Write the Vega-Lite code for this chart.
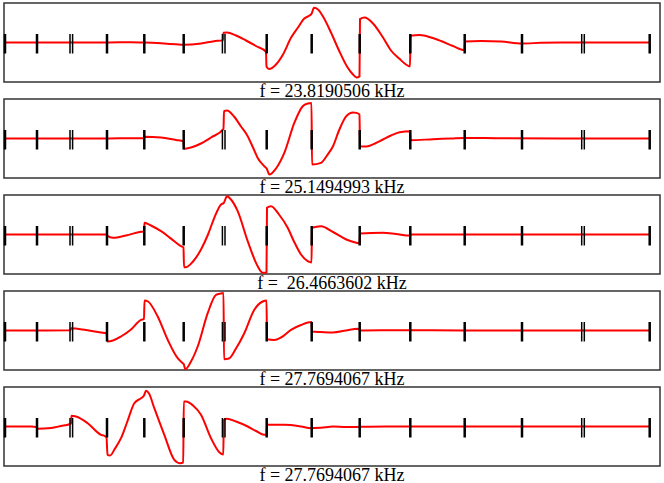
{
  "$schema": "https://vega.github.io/schema/vega-lite/v6.json",
  "padding": {"left": 3, "top": 2, "right": 0, "bottom": 20},
  "background": "white",
  "bounds": "flush",
  "spacing": 17,
  "config": {
    "view": {"stroke": "#333", "strokeWidth": 1.5},
    "title": {"font": "Liberation Serif", "fontSize": 18, "fontWeight": "normal", "orient": "bottom", "anchor": "middle", "offset": 1, "color": "black"}
  },
  "datasets": {
    "ticks": [
      {"x": 4, "kind": "single"}, {"x": 36, "kind": "single"}, {"x": 69.0, "kind": "double"}, {"x": 71.6, "kind": "double"}, {"x": 106, "kind": "single"}, {"x": 143.3, "kind": "single"}, {"x": 182.7, "kind": "single"}, {"x": 221.4, "kind": "double"}, {"x": 224.0, "kind": "double"},
      {"x": 265.7, "kind": "single"}, {"x": 310.7, "kind": "single"}, {"x": 358.7, "kind": "single"}, {"x": 409.3, "kind": "single"}, {"x": 463.7, "kind": "single"}, {"x": 521, "kind": "single"}, {"x": 580.7, "kind": "double"}, {"x": 583.3, "kind": "double"}, {"x": 648.7, "kind": "single"}
    ],
    "wave": [
      {"panel":1,"x":4,"y":0},{"panel":1,"x":36,"y":0},{"panel":1,"x":70,"y":0},{"panel":1,"x":106,"y":0},{"panel":1,"x":130,"y":0.3},{"panel":1,"x":143,"y":0},{"panel":1,"x":160,"y":-0.8},{"panel":1,"x":175,"y":-1.8},{"panel":1,"x":183,"y":-2.3},{"panel":1,"x":200,"y":-1},{"panel":1,"x":213,"y":1.3},{"panel":1,"x":222,"y":2.4},{"panel":1,"x":222.5,"y":9.7},{"panel":1,"x":226,"y":10},{"panel":1,"x":235,"y":7},{"panel":1,"x":245,"y":2},{"panel":1,"x":255,"y":-3.5},{"panel":1,"x":265,"y":-9.3},{"panel":1,"x":265.5,"y":-24},{"panel":1,"x":268,"y":-26.6},{"panel":1,"x":275,"y":-22},{"panel":1,"x":282,"y":-12},{"panel":1,"x":290,"y":4.7},{"panel":1,"x":297,"y":15},{"panel":1,"x":303,"y":23.7},{"panel":1,"x":308,"y":26.7},{"panel":1,"x":310.7,"y":29},{"panel":1,"x":313,"y":34.7},{"panel":1,"x":317,"y":33},{"panel":1,"x":322,"y":26},{"panel":1,"x":330,"y":10},{"panel":1,"x":338,"y":-8},{"panel":1,"x":346,"y":-24},{"panel":1,"x":352,"y":-32},{"panel":1,"x":355.5,"y":-35},{"panel":1,"x":358.5,"y":-34},{"panel":1,"x":359,"y":23.4},{"panel":1,"x":363.7,"y":25},{"panel":1,"x":372,"y":19},{"panel":1,"x":382,"y":5},{"panel":1,"x":390,"y":-8},{"panel":1,"x":398.7,"y":-16.6},{"panel":1,"x":405,"y":-22},{"panel":1,"x":409,"y":-24},{"panel":1,"x":409.5,"y":6.7},{"panel":1,"x":418.7,"y":7.4},{"panel":1,"x":430,"y":5},{"panel":1,"x":440,"y":1.5},{"panel":1,"x":452,"y":-3.5},{"panel":1,"x":463.5,"y":-7.6},{"panel":1,"x":464,"y":1},{"panel":1,"x":480,"y":1.6},{"panel":1,"x":500,"y":1},{"panel":1,"x":521,"y":-1},{"panel":1,"x":540,"y":-0.3},{"panel":1,"x":560,"y":0},{"panel":1,"x":600,"y":0},{"panel":1,"x":648.7,"y":0},

      {"panel":2,"x":4,"y":0},{"panel":2,"x":36,"y":0},{"panel":2,"x":70,"y":0},{"panel":2,"x":106,"y":0},{"panel":2,"x":130,"y":0.3},{"panel":2,"x":143,"y":0.2},{"panel":2,"x":143.5,"y":1.7},{"panel":2,"x":160,"y":1},{"panel":2,"x":175,"y":-1.5},{"panel":2,"x":182.5,"y":-2.7},{"panel":2,"x":183,"y":-10.3},{"panel":2,"x":190,"y":-9},{"panel":2,"x":200,"y":-5},{"panel":2,"x":210,"y":1},{"panel":2,"x":222.5,"y":9.7},{"panel":2,"x":223,"y":27.3},{"panel":2,"x":226,"y":28},{"panel":2,"x":233,"y":22},{"panel":2,"x":240,"y":12},{"panel":2,"x":246.7,"y":2.3},{"panel":2,"x":252,"y":-9},{"panel":2,"x":256.7,"y":-19.4},{"panel":2,"x":263.3,"y":-27.7},{"panel":2,"x":265.7,"y":-30},{"panel":2,"x":268.3,"y":-36},{"panel":2,"x":275,"y":-30},{"panel":2,"x":283.3,"y":-14.4},{"panel":2,"x":293.3,"y":15.6},{"panel":2,"x":301.7,"y":32.3},{"panel":2,"x":306.7,"y":35},{"panel":2,"x":310.5,"y":35.5},{"panel":2,"x":311,"y":-26},{"panel":2,"x":320,"y":-24.4},{"panel":2,"x":326,"y":-17},{"panel":2,"x":332,"y":-7.7},{"panel":2,"x":338,"y":8},{"panel":2,"x":345.3,"y":22.3},{"panel":2,"x":352,"y":26},{"panel":2,"x":355.3,"y":25.6},{"panel":2,"x":358.5,"y":24},{"panel":2,"x":359,"y":-7.7},{"panel":2,"x":365.3,"y":-8},{"panel":2,"x":374,"y":-5},{"panel":2,"x":382,"y":-1},{"panel":2,"x":390,"y":3},{"panel":2,"x":398.7,"y":6.3},{"panel":2,"x":409,"y":7.3},{"panel":2,"x":409.5,"y":-1.7},{"panel":2,"x":432,"y":-0.7},{"panel":2,"x":450,"y":0},{"panel":2,"x":463.7,"y":0.6},{"panel":2,"x":500,"y":0.2},{"panel":2,"x":560,"y":0},{"panel":2,"x":648.7,"y":0},

      {"panel":3,"x":4,"y":0},{"panel":3,"x":36,"y":0},{"panel":3,"x":70,"y":0},{"panel":3,"x":105.5,"y":0},{"panel":3,"x":106,"y":-1},{"panel":3,"x":112,"y":-3.3},{"panel":3,"x":125,"y":-1},{"panel":3,"x":140,"y":2.7},{"panel":3,"x":143,"y":3},{"panel":3,"x":143.5,"y":11.7},{"panel":3,"x":150,"y":9},{"panel":3,"x":160,"y":3.3},{"panel":3,"x":173.3,"y":-6.7},{"panel":3,"x":180,"y":-11.7},{"panel":3,"x":182.5,"y":-13},{"panel":3,"x":183,"y":-32.7},{"panel":3,"x":185,"y":-32.7},{"panel":3,"x":192,"y":-27},{"panel":3,"x":200,"y":-15},{"panel":3,"x":207,"y":0},{"panel":3,"x":213.3,"y":16.7},{"panel":3,"x":220,"y":30},{"panel":3,"x":222.7,"y":31.5},{"panel":3,"x":226,"y":38.3},{"panel":3,"x":230,"y":35},{"panel":3,"x":236.7,"y":23.3},{"panel":3,"x":246.7,"y":-6.7},{"panel":3,"x":256.7,"y":-31.7},{"panel":3,"x":261.7,"y":-38.3},{"panel":3,"x":265.5,"y":-38},{"panel":3,"x":266,"y":26.7},{"panel":3,"x":270,"y":28.3},{"panel":3,"x":278,"y":20},{"panel":3,"x":286.7,"y":6.7},{"panel":3,"x":293,"y":-7},{"panel":3,"x":300,"y":-20},{"panel":3,"x":306.7,"y":-26.7},{"panel":3,"x":310.5,"y":-28},{"panel":3,"x":311,"y":6.7},{"panel":3,"x":320,"y":8.3},{"panel":3,"x":332,"y":2.5},{"panel":3,"x":345.3,"y":-5},{"panel":3,"x":355.3,"y":-8.3},{"panel":3,"x":358.5,"y":-9},{"panel":3,"x":359,"y":1},{"panel":3,"x":382,"y":1.7},{"panel":3,"x":395,"y":0.5},{"panel":3,"x":409,"y":-1},{"panel":3,"x":409.5,"y":0},{"panel":3,"x":430,"y":0},{"panel":3,"x":463,"y":0},{"panel":3,"x":521,"y":0},{"panel":3,"x":648.7,"y":0},

      {"panel":4,"x":4,"y":0},{"panel":4,"x":36,"y":0},{"panel":4,"x":69.5,"y":0.3},{"panel":4,"x":70,"y":2.3},{"panel":4,"x":85,"y":0.5},{"panel":4,"x":100,"y":-2},{"panel":4,"x":105.5,"y":-2.7},{"panel":4,"x":106.5,"y":-11},{"panel":4,"x":112,"y":-10},{"panel":4,"x":120,"y":-6},{"panel":4,"x":130,"y":1},{"panel":4,"x":140,"y":10.7},{"panel":4,"x":143,"y":11.5},{"panel":4,"x":143.5,"y":30},{"panel":4,"x":147,"y":29},{"panel":4,"x":156.7,"y":14},{"panel":4,"x":166.7,"y":-9.3},{"panel":4,"x":176.7,"y":-27.7},{"panel":4,"x":181.7,"y":-32.7},{"panel":4,"x":182.7,"y":-33.5},{"panel":4,"x":184.3,"y":-38.7},{"panel":4,"x":190,"y":-31},{"panel":4,"x":196.7,"y":-16},{"panel":4,"x":206.7,"y":17.3},{"panel":4,"x":215,"y":35.7},{"panel":4,"x":220,"y":37},{"panel":4,"x":222.5,"y":37.5},{"panel":4,"x":223,"y":-28.7},{"panel":4,"x":228,"y":-28},{"panel":4,"x":235,"y":-18},{"panel":4,"x":243.3,"y":-2.7},{"panel":4,"x":253.3,"y":20.7},{"panel":4,"x":261.7,"y":29},{"panel":4,"x":265.5,"y":30},{"panel":4,"x":266,"y":-8.7},{"panel":4,"x":273,"y":-9.5},{"panel":4,"x":280,"y":-7},{"panel":4,"x":290,"y":0.7},{"panel":4,"x":300,"y":5.5},{"panel":4,"x":310.5,"y":8.5},{"panel":4,"x":311,"y":-1},{"panel":4,"x":320,"y":-1.5},{"panel":4,"x":332,"y":-2},{"panel":4,"x":345,"y":0},{"panel":4,"x":357,"y":1.7},{"panel":4,"x":359,"y":0},{"panel":4,"x":400,"y":0.3},{"panel":4,"x":463,"y":0},{"panel":4,"x":521,"y":0},{"panel":4,"x":648.7,"y":0},

      {"panel":5,"x":4,"y":0},{"panel":5,"x":30,"y":0},{"panel":5,"x":35.5,"y":-0.5},{"panel":5,"x":36.5,"y":-2.3},{"panel":5,"x":50,"y":-1.5},{"panel":5,"x":60,"y":0.5},{"panel":5,"x":68.3,"y":2.3},{"panel":5,"x":70,"y":3},{"panel":5,"x":70.5,"y":10.7},{"panel":5,"x":75,"y":10},{"panel":5,"x":86.7,"y":3.3},{"panel":5,"x":100,"y":-8.3},{"panel":5,"x":104,"y":-9.7},{"panel":5,"x":105.5,"y":-11},{"panel":5,"x":106.5,"y":-28.3},{"panel":5,"x":109,"y":-29},{"panel":5,"x":114,"y":-22},{"panel":5,"x":120,"y":-11.7},{"panel":5,"x":126,"y":4},{"panel":5,"x":133.3,"y":23.3},{"panel":5,"x":140,"y":28.3},{"panel":5,"x":143,"y":31},{"panel":5,"x":145,"y":35.7},{"panel":5,"x":148,"y":33},{"panel":5,"x":153.3,"y":18.3},{"panel":5,"x":163.3,"y":-8.3},{"panel":5,"x":173.3,"y":-33.3},{"panel":5,"x":179.3,"y":-36.7},{"panel":5,"x":182.2,"y":-36},{"panel":5,"x":182.8,"y":25},{"panel":5,"x":185,"y":25},{"panel":5,"x":192,"y":21},{"panel":5,"x":200,"y":11.7},{"panel":5,"x":210,"y":-11.7},{"panel":5,"x":218.3,"y":-25.7},{"panel":5,"x":222.3,"y":-28},{"panel":5,"x":222.8,"y":6.7},{"panel":5,"x":226,"y":7.7},{"panel":5,"x":235,"y":5},{"panel":5,"x":246.7,"y":0},{"panel":5,"x":255,"y":-4.5},{"panel":5,"x":263.3,"y":-8.3},{"panel":5,"x":265.5,"y":-8},{"panel":5,"x":266,"y":1.7},{"panel":5,"x":283.3,"y":1.7},{"panel":5,"x":300,"y":0},{"panel":5,"x":310,"y":-1.7},{"panel":5,"x":320,"y":-1.2},{"panel":5,"x":332,"y":0},{"panel":5,"x":345,"y":-0.5},{"panel":5,"x":360,"y":-0.3},{"panel":5,"x":385,"y":0},{"panel":5,"x":463,"y":0},{"panel":5,"x":521,"y":0},{"panel":5,"x":648.7,"y":0}
    ]
  },
  "vconcat": [
    {
      "title": "f = 23.8190506 kHz", "width": 656, "height": 79,
      "layer": [
        {"data": {"name": "wave"}, "transform": [{"filter": "datum.panel == 1"}],
         "mark": {"type": "line", "color": "#ff0000", "strokeWidth": 2, "interpolate": "monotone", "clip": true},
         "encoding": {"x": {"field": "x", "type": "quantitative", "scale": {"domain": [3, 659], "nice": false, "zero": false}, "axis": null},
                      "y": {"field": "y", "type": "quantitative", "scale": {"domain": [-39.5, 39.5], "nice": false, "zero": false}, "axis": null},
                      "order": {"field": "x"}}},
        {"data": {"name": "ticks"}, "mark": {"type": "rule", "color": "black"},
         "encoding": {"x": {"field": "x", "type": "quantitative"}, "y": {"datum": -11}, "y2": {"datum": 8.5},
                      "strokeWidth": {"field": "kind", "type": "nominal", "scale": {"domain": ["single", "double"], "range": [2.5, 1.5]}, "legend": null}}}
      ]
    },
    {
      "title": "f = 25.1494993 kHz", "width": 656, "height": 79,
      "layer": [
        {"data": {"name": "wave"}, "transform": [{"filter": "datum.panel == 2"}],
         "mark": {"type": "line", "color": "#ff0000", "strokeWidth": 2, "interpolate": "monotone", "clip": true},
         "encoding": {"x": {"field": "x", "type": "quantitative", "scale": {"domain": [3, 659], "nice": false, "zero": false}, "axis": null},
                      "y": {"field": "y", "type": "quantitative", "scale": {"domain": [-39.5, 39.5], "nice": false, "zero": false}, "axis": null},
                      "order": {"field": "x"}}},
        {"data": {"name": "ticks"}, "mark": {"type": "rule", "color": "black"},
         "encoding": {"x": {"field": "x", "type": "quantitative"}, "y": {"datum": -11}, "y2": {"datum": 8.5},
                      "strokeWidth": {"field": "kind", "type": "nominal", "scale": {"domain": ["single", "double"], "range": [2.5, 1.5]}, "legend": null}}}
      ]
    },
    {
      "title": "f = \u00a026.4663602 kHz", "width": 656, "height": 79,
      "layer": [
        {"data": {"name": "wave"}, "transform": [{"filter": "datum.panel == 3"}],
         "mark": {"type": "line", "color": "#ff0000", "strokeWidth": 2, "interpolate": "monotone", "clip": true},
         "encoding": {"x": {"field": "x", "type": "quantitative", "scale": {"domain": [3, 659], "nice": false, "zero": false}, "axis": null},
                      "y": {"field": "y", "type": "quantitative", "scale": {"domain": [-39.5, 39.5], "nice": false, "zero": false}, "axis": null},
                      "order": {"field": "x"}}},
        {"data": {"name": "ticks"}, "mark": {"type": "rule", "color": "black"},
         "encoding": {"x": {"field": "x", "type": "quantitative"}, "y": {"datum": -11}, "y2": {"datum": 8.5},
                      "strokeWidth": {"field": "kind", "type": "nominal", "scale": {"domain": ["single", "double"], "range": [2.5, 1.5]}, "legend": null}}}
      ]
    },
    {
      "title": "f = 27.7694067 kHz", "width": 656, "height": 79,
      "layer": [
        {"data": {"name": "wave"}, "transform": [{"filter": "datum.panel == 4"}],
         "mark": {"type": "line", "color": "#ff0000", "strokeWidth": 2, "interpolate": "monotone", "clip": true},
         "encoding": {"x": {"field": "x", "type": "quantitative", "scale": {"domain": [3, 659], "nice": false, "zero": false}, "axis": null},
                      "y": {"field": "y", "type": "quantitative", "scale": {"domain": [-39.5, 39.5], "nice": false, "zero": false}, "axis": null},
                      "order": {"field": "x"}}},
        {"data": {"name": "ticks"}, "mark": {"type": "rule", "color": "black"},
         "encoding": {"x": {"field": "x", "type": "quantitative"}, "y": {"datum": -11}, "y2": {"datum": 8.5},
                      "strokeWidth": {"field": "kind", "type": "nominal", "scale": {"domain": ["single", "double"], "range": [2.5, 1.5]}, "legend": null}}}
      ]
    },
    {
      "title": "f = 27.7694067 kHz", "width": 656, "height": 79,
      "layer": [
        {"data": {"name": "wave"}, "transform": [{"filter": "datum.panel == 5"}],
         "mark": {"type": "line", "color": "#ff0000", "strokeWidth": 2, "interpolate": "monotone", "clip": true},
         "encoding": {"x": {"field": "x", "type": "quantitative", "scale": {"domain": [3, 659], "nice": false, "zero": false}, "axis": null},
                      "y": {"field": "y", "type": "quantitative", "scale": {"domain": [-39.5, 39.5], "nice": false, "zero": false}, "axis": null},
                      "order": {"field": "x"}}},
        {"data": {"name": "ticks"}, "mark": {"type": "rule", "color": "black"},
         "encoding": {"x": {"field": "x", "type": "quantitative"}, "y": {"datum": -11}, "y2": {"datum": 8.5},
                      "strokeWidth": {"field": "kind", "type": "nominal", "scale": {"domain": ["single", "double"], "range": [2.5, 1.5]}, "legend": null}}}
      ]
    }
  ]
}
